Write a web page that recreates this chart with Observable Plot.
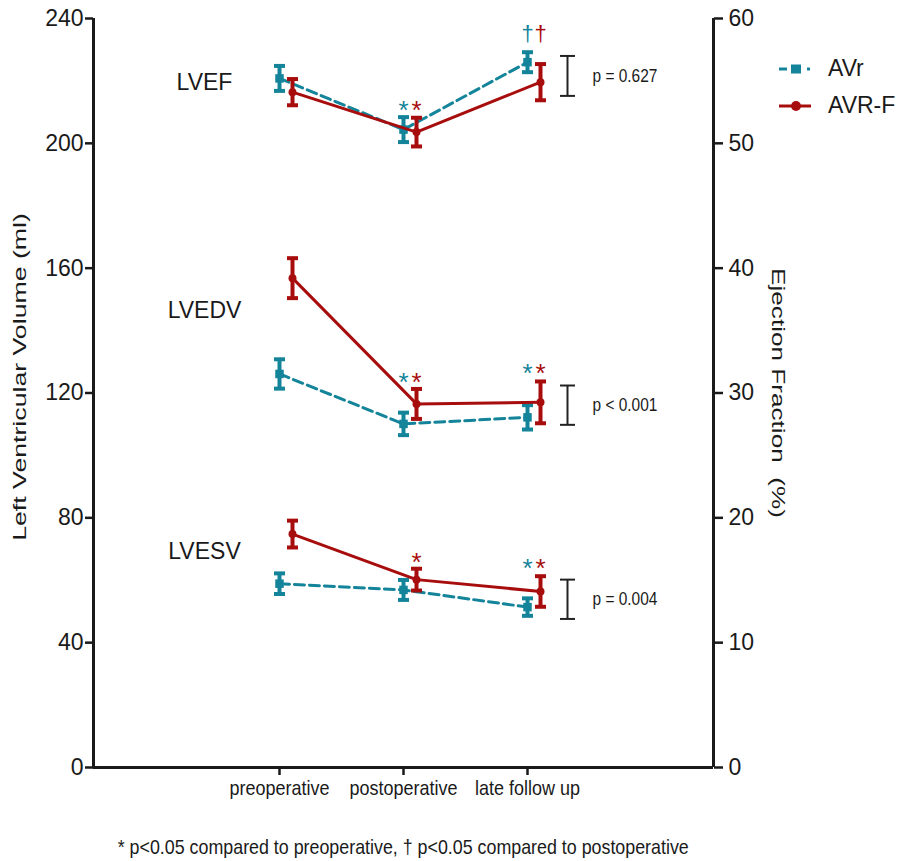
<!DOCTYPE html>
<html><head><meta charset="utf-8">
<script src="https://cdn.jsdelivr.net/npm/d3@7"></script>
<script src="https://cdn.jsdelivr.net/npm/@observablehq/plot@0.6"></script>
<style>
body{margin:0;background:#fff;}
#wrap{position:relative;width:899px;height:861px;overflow:hidden;background:#fff;}
#chart{position:absolute;left:0;top:0;}
#legend{position:absolute;left:778px;top:50px;font-family:"Liberation Sans",Arial,sans-serif;font-size:23px;color:#1a1a1a;}
.lrow{display:flex;align-items:center;height:37px;}
.lrow svg{margin-right:16px;}
#note{position:absolute;left:0;width:806px;top:835px;text-align:center;font-family:"Liberation Sans",Arial,sans-serif;font-size:21px;color:#1a1a1a;white-space:nowrap;}
#note span{display:inline-block;transform-origin:50% 50%;}
</style></head>
<body><div id="wrap"><div id="chart"></div><div id="legend"></div><div id="note"><span id="notetext"></span></div></div>
<script>
// ---- data ----
const categories = ["preoperative", "postoperative", "late follow up"];
const seriesNames = ["AVr", "AVR-F"];
const groupNames = ["LVEF", "LVEDV", "LVESV"];
const yTicks = [0, 40, 80, 120, 160, 200, 240];
const yTitle = "Left Ventricular Volume (ml)";
const y2Title = "Ejection Fraction  (%)";
const footnote = "* p<0.05 compared to preoperative, \u2020 p<0.05 compared to postoperative";

// LVEF (%), right axis
const lvefAVr = [55.2, 51.1, 56.5];
const lvefAVrErr = [1.0, 1.0, 0.8];
const lvefAVRF = [54.1, 50.9, 54.9];
const lvefAVRFErr = [1.05, 1.15, 1.45];
// LVEDV (ml)
const lvedvAVr = [126.1, 110.1, 112.2];
const lvedvAVrErr = [4.7, 3.6, 3.9];
const lvedvAVRF = [156.8, 116.5, 117.0];
const lvedvAVRFErr = [6.4, 4.8, 6.7];
// LVESV (ml)
const lvesvAVr = [58.9, 56.9, 51.4];
const lvesvAVrErr = [3.3, 3.2, 2.8];
const lvesvAVRF = [74.8, 60.2, 56.4];
const lvesvAVRFErr = [4.3, 3.5, 4.9];

// group label positions (group units)
const groupLabelAt = [54.85, 146.3, 69.2];

// significance symbols
const sigGroup  = ["LVEF", "LVEF", "LVEF", "LVEF", "LVEDV", "LVEDV", "LVEDV", "LVEDV", "LVESV", "LVESV", "LVESV"];
const sigSeries = ["AVr", "AVR-F", "AVr", "AVR-F", "AVr", "AVR-F", "AVr", "AVR-F", "AVR-F", "AVr", "AVR-F"];
const sigIndex  = [1, 1, 2, 2, 1, 1, 2, 2, 1, 2, 2];
const sigSymbol = ["*", "*", "\u2020", "\u2020", "*", "*", "*", "*", "*", "*", "*"];
const sigAt     = [53.2, 53.2, 58.8, 58.8, 125.6, 125.6, 128.5, 128.5, 67.9, 65.8, 65.8];

// p-value brackets (group units)
const pGroup  = ["LVEF", "LVEDV", "LVESV"];
const pTop    = [57.0, 122.4, 60.2];
const pBottom = [53.8, 109.8, 47.6];
const pLabel  = ["p = 0.627", "p < 0.001", "p = 0.004"];

// ---- styling ----
const colors = {"AVr": "#13849a", "AVR-F": "#a80d0d"};
const shift = {"AVr": 0, "AVR-F": 13};
const xDomain = [-1.5, 3.5];
const efToMl = 240 / 60;
const regular = "Liberation Sans, Arial, sans-serif";
const toY = (g, v) => g === "LVEF" ? v * efToMl : v;

// ---- build table ----
const table = [
  ["LVEF", "AVr", lvefAVr, lvefAVrErr],
  ["LVEF", "AVR-F", lvefAVRF, lvefAVRFErr],
  ["LVEDV", "AVr", lvedvAVr, lvedvAVrErr],
  ["LVEDV", "AVR-F", lvedvAVRF, lvedvAVRFErr],
  ["LVESV", "AVr", lvesvAVr, lvesvAVrErr],
  ["LVESV", "AVR-F", lvesvAVRF, lvesvAVRFErr]
].flatMap(([g, s, v, e]) => v.map((val, i) => ({
  group: g, series: s, i,
  y: toY(g, val), lo: toY(g, val - e[i]), hi: toY(g, val + e[i])
})));

const sigs = sigGroup.map((g, k) => ({group: g, series: sigSeries[k], i: sigIndex[k], sym: sigSymbol[k], y: toY(g, sigAt[k])}));
const brackets = pGroup.map((g, k) => ({group: g, i: 2, top: toY(g, pTop[k]), bottom: toY(g, pBottom[k]), mid: toY(g, (pTop[k] + pBottom[k]) / 2), label: pLabel[k]}));
const groupLabels = groupNames.map((g, k) => ({name: g, i: 0, y: toY(g, groupLabelAt[k])}));

const hcap = {draw(ctx, size) { const r = Math.sqrt(size / Math.PI); ctx.moveTo(-r, 0); ctx.lineTo(r, 0); }};

function seriesMarks(s) {
  const d = table.filter(r => r.series === s);
  const c = colors[s];
  const dx = shift[s];
  const out = [
    Plot.line(d, {x: "i", y: "y", z: "group", stroke: c, strokeWidth: 3, dx, strokeDasharray: s === "AVr" ? "10,5" : null}),
    Plot.ruleX(d, {x: "i", y1: "lo", y2: "hi", stroke: c, strokeWidth: 4, dx}),
    Plot.dot(d, {x: "i", y: "lo", symbol: hcap, r: 5.5, stroke: c, fill: "none", strokeWidth: 4, dx}),
    Plot.dot(d, {x: "i", y: "hi", symbol: hcap, r: 5.5, stroke: c, fill: "none", strokeWidth: 4, dx}),
    s === "AVr"
      ? Plot.dot(d, {x: "i", y: "y", symbol: "square", r: 4.8, fill: c, stroke: "none", dx})
      : Plot.dot(d, {x: "i", y: "y", symbol: "circle", r: 4, fill: c, stroke: "none", dx})
  ];
  const sg = sigs.filter(r => r.series === s);
  out.push(Plot.text(sg.filter(r => r.sym === "*"), {x: "i", y: "y", text: "sym", fill: c, fontSize: 26, fontFamily: regular, dx, dy: 7}));
  out.push(Plot.text(sg.filter(r => r.sym !== "*"), {x: "i", y: "y", text: "sym", fill: c, fontSize: 22, fontFamily: regular, dx}));
  return out;
}

const chart = Plot.plot({
  width: 899, height: 815,
  marginLeft: 93, marginRight: 186, marginTop: 18, marginBottom: 48,
  x: {domain: xDomain},
  y: {domain: [0, 240]},
  style: {fontFamily: regular, color: "#1a1a1a", background: "white"},
  marks: [
    Plot.axisY({ticks: yTicks, tickSize: 8, tickPadding: 2, strokeWidth: 2.5, fontSize: 23, fontFamily: regular, label: null}),
    Plot.axisY({anchor: "right", ticks: yTicks, tickFormat: d => d / efToMl, tickSize: 9, tickPadding: 6, strokeWidth: 2.5, fontSize: 23, fontFamily: regular, label: null}),
    Plot.axisX({ticks: [0, 1, 2], tickFormat: i => categories[i], tickSize: 8, tickPadding: 5, strokeWidth: 2.5, fontSize: 21, fontFamily: regular, label: null}),
    Plot.ruleX([xDomain[0]], {strokeWidth: 3, stroke: "#1a1a1a"}),
    Plot.ruleX([xDomain[1]], {strokeWidth: 3, stroke: "#1a1a1a"}),
    Plot.ruleY([0], {strokeWidth: 3, stroke: "#1a1a1a"}),
    Plot.text([yTitle], {frameAnchor: "left", textAnchor: "middle", dx: -74, dy: -16, rotate: -90, fontSize: 19, fontFamily: regular, fill: "#1a1a1a"}),
    Plot.text([y2Title], {frameAnchor: "right", textAnchor: "middle", dx: 65, dy: 0, rotate: 90, fontSize: 19, fontFamily: regular, fill: "#1a1a1a"}),
    Plot.text(groupLabels, {x: "i", y: "y", text: "name", dx: -75, fontSize: 23, fontFamily: regular, fill: "#1a1a1a"}),
    // p-value brackets
    Plot.ruleX(brackets, {x: "i", y1: "bottom", y2: "top", dx: 40, stroke: "#222", strokeWidth: 2}),
    Plot.dot(brackets, {x: "i", y: "top", symbol: hcap, r: 7.5, stroke: "#222", fill: "none", strokeWidth: 2, dx: 40}),
    Plot.dot(brackets, {x: "i", y: "bottom", symbol: hcap, r: 7.5, stroke: "#222", fill: "none", strokeWidth: 2, dx: 40}),
    Plot.text(brackets, {x: "i", y: "mid", text: "label", dx: 65, textAnchor: "start", fontSize: 19, fontFamily: regular, fill: "#1a1a1a"}),
    ...seriesMarks("AVr"),
    ...seriesMarks("AVR-F")
  ]
});
document.getElementById("chart").appendChild(chart);

// horizontal squeeze / stretch of text along its own direction (reference text is condensed)
function squeeze(t, k) {
  const xa = t.getAttribute("x");
  const tr = t.getAttribute("transform") || "";
  if (xa !== null && !tr.includes("rotate")) {
    t.setAttribute("x", 0);
    t.setAttribute("transform", `${tr} translate(${xa},0) scale(${k},1)`);
  } else {
    t.setAttribute("transform", `${tr} scale(${k},1)`);
  }
}
const texts = Array.from(chart.querySelectorAll("text"));
const catEl = texts.find(t => t.textContent === categories[0]);
const kCat = catEl ? 100 / catEl.getComputedTextLength() : 0.85;
const pEl = texts.find(t => t.textContent === pLabel[0]);
const kP = pEl ? 65 / pEl.getComputedTextLength() : 0.82;
texts.forEach(t => {
  const s = t.textContent;
  if (categories.includes(s)) squeeze(t, kCat);
  else if (pLabel.includes(s)) squeeze(t, kP);
  else if (s === yTitle) squeeze(t, 328 / t.getComputedTextLength());
  else if (s === y2Title) squeeze(t, 250 / t.getComputedTextLength());
});

// legend
const legend = d3.select("#legend");
seriesNames.forEach(s => {
  const row = legend.append("div").attr("class", "lrow");
  const sv = row.append("svg").attr("width", 34).attr("height", 14);
  const c = colors[s];
  if (s === "AVr") {
    sv.append("line").attr("x1", 1).attr("x2", 9).attr("y1", 7).attr("y2", 7).attr("stroke", c).attr("stroke-width", 3);
    sv.append("rect").attr("x", 13).attr("y", 2.5).attr("width", 10).attr("height", 9).attr("fill", c);
    sv.append("line").attr("x1", 29).attr("x2", 32).attr("y1", 7).attr("y2", 7).attr("stroke", c).attr("stroke-width", 3);
  } else {
    sv.append("line").attr("x1", 1).attr("x2", 33).attr("y1", 7).attr("y2", 7).attr("stroke", c).attr("stroke-width", 3);
    sv.append("circle").attr("cx", 18).attr("cy", 7).attr("r", 5).attr("fill", c);
  }
  row.append("span").text(s);
});
const note = document.getElementById("notetext");
note.textContent = footnote;
const w = note.getBoundingClientRect().width;
note.style.transform = `scaleX(${571 / w})`;
</script>
</body></html>
